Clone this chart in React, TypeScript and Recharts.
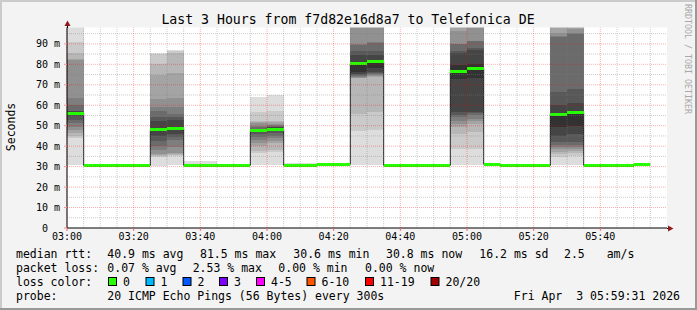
import React from "react";
import {
  ComposedChart,
  Area,
  XAxis,
  YAxis,
  CartesianGrid,
  ReferenceLine,
} from "recharts";

// 5 minute steps, 03:00 .. 05:50 (each step lasts until the next one)
const steps = [
  "03:00", "03:05", "03:10", "03:15", "03:20", "03:25", "03:30", "03:35", "03:40", "03:45",
  "03:50", "03:55", "04:00", "04:05", "04:10", "04:15", "04:20", "04:25", "04:30", "04:35",
  "04:40", "04:45", "04:50", "04:55", "05:00", "05:05", "05:10", "05:15", "05:20", "05:25",
  "05:30", "05:35", "05:40", "05:45", "05:50",
];
const lastStepEnd = "05:55";

// median rtt per step (ms)
const medianRtt = [
  56.0, 30.6, 30.6, 30.6, 30.6, 48.0, 48.6, 30.6, 30.6, 30.6,
  30.6, 47.5, 48.2, 30.6, 30.6, 31.2, 31.2, 80.2, 81.3, 30.6,
  30.6, 30.6, 30.6, 76.4, 78.1, 31.2, 30.6, 30.6, 30.6, 55.7,
  56.4, 30.6, 30.6, 30.6, 31.2,
];

// 20 sorted pings per step (ms)
const calm = [30.6, 30.6, 30.6, 30.6, 30.6, 30.6, 30.6, 30.6, 30.6, 30.6, 30.6, 30.6, 30.6, 30.6, 30.6, 30.6, 30.6, 30.6, 30.6, 30.6];
const calmTop313 = [30.6, 30.6, 30.6, 30.6, 30.6, 30.6, 30.6, 30.6, 30.6, 30.6, 30.6, 30.6, 30.6, 30.6, 30.6, 30.6, 30.6, 30.6, 30.6, 31.3];
const calmTop315 = [30.6, 30.6, 30.6, 30.6, 30.6, 30.6, 30.6, 30.6, 30.6, 30.6, 30.6, 30.6, 30.6, 30.6, 30.6, 30.6, 30.6, 30.6, 30.6, 31.5];
const calmTop318 = [30.6, 30.6, 30.6, 30.6, 30.6, 30.6, 30.6, 30.6, 30.6, 30.6, 30.6, 30.6, 30.6, 30.6, 30.6, 30.6, 30.6, 30.6, 30.6, 31.8];
const calmTop326 = [30.6, 30.6, 30.6, 30.6, 30.6, 30.6, 30.6, 30.6, 30.6, 30.6, 30.6, 30.6, 30.6, 30.6, 30.6, 30.6, 30.6, 30.6, 30.6, 32.6];
const calmTop329 = [30.6, 30.6, 30.6, 30.6, 30.6, 30.6, 30.6, 30.6, 30.6, 30.6, 30.6, 30.6, 30.6, 30.6, 30.6, 30.6, 30.6, 30.6, 30.6, 32.9];
const raised = [30.6, 31.2, 31.2, 31.2, 31.2, 31.2, 31.2, 31.2, 31.2, 31.2, 31.2, 31.2, 31.2, 31.2, 31.2, 31.2, 31.2, 31.2, 31.2, 31.6];
const s0300 = [30.6, 43.8, 45.2, 46.6, 47.9, 49.5, 51.2, 52.8, 54.5, 55.5, 56.5, 57.0, 57.4, 60.2, 63.4, 82.0, 82.5, 85.4, 91.1, 110];
const s0325 = [30.5, 34.8, 35.1, 35.5, 36.1, 38.0, 40.2, 42.6, 45.1, 47.2, 48.6, 52.5, 54.4, 57.0, 59.0, 63.1, 75.0, 80.2, 85.0, 85.4];
const s0330 = [30.6, 35.1, 35.6, 36.2, 36.7, 39.6, 42.9, 44.3, 45.8, 48.0, 49.1, 53.0, 54.3, 55.6, 59.0, 63.7, 75.7, 85.4, 86.5, 87.0];
const s0355 = [30.6, 36.8, 37.5, 40.1, 41.7, 43.0, 44.6, 45.8, 46.8, 47.3, 47.8, 48.2, 48.5, 49.2, 50.0, 51.2, 52.0, 52.5, 56.6, 64.2];
const s0400 = [30.6, 37.3, 38.0, 41.4, 42.5, 43.8, 45.0, 46.2, 47.2, 47.9, 48.6, 49.2, 49.6, 49.9, 50.2, 51.0, 51.8, 52.2, 57.2, 65.2];
const s0425 = [30.6, 47.6, 55.7, 73.3, 73.5, 73.8, 74.2, 74.8, 75.5, 76.3, 80.4, 84.7, 86.5, 89.6, 89.8, 110, 112, 114, 116, 118];
const s0430 = [30.6, 47.9, 56.5, 73.9, 74.2, 74.6, 75.1, 75.6, 76.1, 78.3, 81.6, 84.7, 86.4, 90.6, 91.0, 110, 112, 114, 116, 118];
const s0455 = [30.6, 38.7, 46.0, 49.3, 51.0, 52.5, 54.1, 55.3, 56.6, 73.0, 79.5, 85.5, 86.5, 89.8, 90.0, 96.2, 98.5, 105, 110, 115];
const s0500 = [30.6, 38.7, 46.8, 50.9, 52.2, 53.3, 55.0, 56.0, 56.6, 73.4, 80.1, 87.0, 88.0, 91.3, 91.6, 110, 112, 114, 116, 118];
const s0525 = [30.6, 34.9, 36.0, 37.0, 38.7, 39.5, 40.5, 41.9, 45.2, 49.3, 56.1, 59.9, 66.4, 93.2, 93.8, 95.5, 110, 112, 114, 116];
const s0530 = [30.6, 35.3, 36.5, 37.8, 38.6, 39.4, 40.6, 41.9, 45.9, 50.0, 57.1, 61.0, 68.0, 94.9, 95.2, 97.1, 110, 112, 114, 116];

const stepPings = [
  s0300, calmTop315, calmTop315, calm, calm, s0325, s0330, calmTop326, calmTop329, calmTop313,
  calmTop313, s0355, s0400, calmTop318, calmTop318, raised, raised, s0425, s0430, calm,
  calm, calm, calm, s0455, s0500, raised, calm, calm, calmTop313, s0525,
  s0530, calm, calm, calm, raised,
];

// smokeping grey shades, outermost pair first
const smokeShades = ["#dddddd", "#cacaca", "#b7b7b7", "#a4a4a4", "#919191", "#7e7e7e", "#6b6b6b", "#585858", "#454545", "#323232"];

const xTickLabels = ["03:00", "03:20", "03:40", "04:00", "04:20", "04:40", "05:00", "05:20", "05:40"];
const yTicks = [0, 10, 20, 30, 40, 50, 60, 70, 80, 90];
const yMinor = [5, 15, 25, 35, 45, 55, 65, 75, 85, 95];
const xMinor = [
  "03:05", "03:10", "03:15", "03:25", "03:30", "03:35", "03:45", "03:50", "03:55",
  "04:05", "04:10", "04:15", "04:25", "04:30", "04:35", "04:45", "04:50", "04:55",
  "05:05", "05:10", "05:15", "05:25", "05:30", "05:35", "05:45", "05:50", "05:55",
];

const lossLegend = [
  { label: "0", color: "#26ff00", x: 108 },
  { label: "1", color: "#00b8ff", x: 145.5 },
  { label: "2", color: "#0059ff", x: 182.5 },
  { label: "3", color: "#7e00ff", x: 219 },
  { label: "4-5", color: "#ff00ff", x: 256 },
  { label: "6-10", color: "#ff5500", x: 306.5 },
  { label: "11-19", color: "#ff0000", x: 365 },
  { label: "20/20", color: "#a10000", x: 430.5 },
];

const toMin = (t: string) => {
  const [h, m] = t.split(":").map(Number);
  return (h - 3) * 60 + m;
};

const makeRow = (m: number, p: number[], med: number) => {
  const r: Record<string, number> = { m, base: p[0], median: med, medLo: med - 0.75, medBand: 1.5 };
  for (let j = 1; j < p.length; j++) r[`d${j}`] = p[j] - p[j - 1];
  return r;
};

const rows = steps.map((t, i) => makeRow(toMin(t), stepPings[i], medianRtt[i]));
rows.push({ ...rows[rows.length - 1], m: toMin(lastStepEnd) });

const intervals = Array.from({ length: 19 }, (_, k) => k + 1);
const shadeFor = (j: number) => smokeShades[Math.min(j, 20 - j) - 1];

const MONO = "'DejaVu Sans Mono', monospace";

// rrdtool pads the unitless "0" label with two trailing blanks
const YTick = (props: any) => {
  const { x, y, payload } = props;
  const label = payload.value === 0 ? "0  " : `${payload.value} m`;
  return (
    <text
      x={x}
      y={y}
      dy="0.35em"
      textAnchor="end"
      style={{ fontFamily: MONO, fontSize: 10, fill: "#000", whiteSpace: "pre" }}
    >
      {label}
    </text>
  );
};

export default function App() {
  const legendFont = { fontFamily: MONO, fontSize: 11.5, fill: "#000", whiteSpace: "pre" as const };
  const xTicks = xTickLabels.map(toMin);
  return (
    <div style={{ position: "fixed", left: 0, top: 0, width: 697, height: 310, background: "#f3f3f3" }}>
      <style>{`.recharts-area-area{shape-rendering:crispEdges}`}</style>
      <ComposedChart
        width={697}
        height={310}
        data={rows}
        margin={{ top: 27.5, right: 30, bottom: 52, left: 0 }}
      >
        <CartesianGrid horizontal={false} vertical={false} fill="#ffffff" stroke="none" />
        <XAxis
          type="number"
          dataKey="m"
          domain={[0, 180]}
          ticks={xTicks}
          interval={0}
          allowDataOverflow
          height={30}
          tickFormatter={(v: number) => xTickLabels[xTicks.indexOf(v)] ?? ""}
          axisLine={{ stroke: "#000" }}
          tickLine={{ stroke: "#ff6060" }}
          tickSize={3}
          tickMargin={2}
          tick={{ fontFamily: MONO, fontSize: 10, fill: "#000" }}
        />
        <YAxis
          type="number"
          domain={[0, 98]}
          ticks={yTicks}
          interval={0}
          allowDataOverflow
          width={67}
          axisLine={{ stroke: "#000" }}
          tickLine={{ stroke: "#ff9090" }}
          tickSize={3}
          tickMargin={4}
          tick={<YTick />}
        />
        <Area dataKey="base" stackId="smoke" type="stepAfter" fill="none" stroke="none" isAnimationActive={false} />
        {intervals.map((j) => (
          <Area
            key={j}
            dataKey={`d${j}`}
            stackId="smoke"
            type="stepAfter"
            fill={shadeFor(j)}
            fillOpacity={1}
            stroke="none"
            isAnimationActive={false}
          />
        ))}
        {yMinor.map((v) => (
          <ReferenceLine key={`ym${v}`} y={v} stroke="rgba(128,128,128,0.4)" strokeDasharray="1 1" />
        ))}
        {xMinor.map((t) => (
          <ReferenceLine key={`xm${t}`} x={toMin(t)} stroke="rgba(128,128,128,0.4)" strokeDasharray="1 1" />
        ))}
        {yTicks.filter((v) => v > 0).map((v) => (
          <ReferenceLine key={`yM${v}`} y={v} stroke="rgba(255,0,0,0.32)" strokeDasharray="1 1" />
        ))}
        {xTickLabels.map((t) => (
          <ReferenceLine key={`xM${t}`} x={toMin(t)} stroke="rgba(255,0,0,0.32)" strokeDasharray="1 1" />
        ))}
        {/* thin dark median (shows the step edges), then the loss-coloured band on top */}
        <Area dataKey="median" type="stepAfter" fill="none" stroke="#202020" strokeWidth={1} isAnimationActive={false} />
        <Area dataKey="medLo" stackId="loss" type="stepAfter" fill="none" stroke="none" isAnimationActive={false} />
        <Area dataKey="medBand" stackId="loss" type="stepAfter" fill="#26ff00" fillOpacity={1} stroke="none" isAnimationActive={false} />
      </ComposedChart>

      <svg width={697} height={310} style={{ position: "absolute", left: 0, top: 0, pointerEvents: "none" }}>
        {/* frame */}
        <rect x={0} y={0} width={697} height={2} fill="#cbcbcb" />
        <rect x={0} y={0} width={2} height={310} fill="#cbcbcb" />
        <rect x={0} y={308} width={697} height={2} fill="#999999" />
        <rect x={695} y={0} width={2} height={310} fill="#999999" />

        {/* axis extensions and arrows */}
        <line x1={67.5} y1={22} x2={67.5} y2={28} stroke="#000" />
        <line x1={667} y1={228.5} x2={670} y2={228.5} stroke="#000" />
        <polygon points="64.5,26 67.5,20.5 70.5,26" fill="#8f1a1a" />
        <polygon points="668,225.5 673.5,228.5 668,231.5" fill="#8f1a1a" />

        <text x={348} y={24} textAnchor="middle" style={{ fontFamily: MONO, fontSize: 13.2, fill: "#000" }}>
          Last 3 Hours from f7d82e16d8a7 to Telefonica DE
        </text>
        <text
          x={15.3}
          y={127}
          textAnchor="middle"
          transform="rotate(-90 15.3 127)"
          style={{ fontFamily: MONO, fontSize: 11.5, fill: "#000" }}
        >
          Seconds
        </text>
        <text
          x={685}
          y={4}
          transform="rotate(90 685 4)"
          style={{ fontFamily: MONO, fontSize: 8.3, fill: "#a8a8a8" }}
        >
          RRDTOOL / TOBI OETIKER
        </text>

        {/* legend */}
        <text x={16} y={258.3} style={legendFont}>median rtt:</text>
        <text x={107.3} y={258.3} style={legendFont}>40.9 ms avg</text>
        <text x={200} y={258.3} style={legendFont}>81.5 ms max</text>
        <text x={293.3} y={258.3} style={legendFont}>30.6 ms min</text>
        <text x={386} y={258.3} style={legendFont}>30.8 ms now</text>
        <text x={479.3} y={258.3} style={legendFont}>16.2 ms sd</text>
        <text x={564} y={258.3} style={legendFont}>2.5</text>
        <text x={606.7} y={258.3} style={legendFont}>am/s</text>

        <text x={16} y={272.3} style={legendFont}>packet loss:</text>
        <text x={107.3} y={272.3} style={legendFont}>0.07 % avg</text>
        <text x={192.7} y={272.3} style={legendFont}>2.53 % max</text>
        <text x={278.3} y={272.3} style={legendFont}>0.00 % min</text>
        <text x={365} y={272.3} style={legendFont}>0.00 % now</text>

        <text x={16} y={286.3} style={legendFont}>loss color:</text>
        {lossLegend.map((l) => (
          <g key={l.label}>
            <rect x={l.x + 0.5} y={277.5} width={8} height={8} fill={l.color} stroke="#000" strokeWidth={1} />
            <text x={l.x + 15} y={286.3} style={legendFont}>{l.label}</text>
          </g>
        ))}

        <text x={16} y={300.3} style={legendFont}>probe:</text>
        <text x={107.3} y={300.3} style={legendFont}>20 ICMP Echo Pings (56 Bytes) every 300s</text>
        <text x={680} y={300.3} textAnchor="end" style={legendFont}>Fri Apr  3 05:59:31 2026</text>
      </svg>
    </div>
  );
}
